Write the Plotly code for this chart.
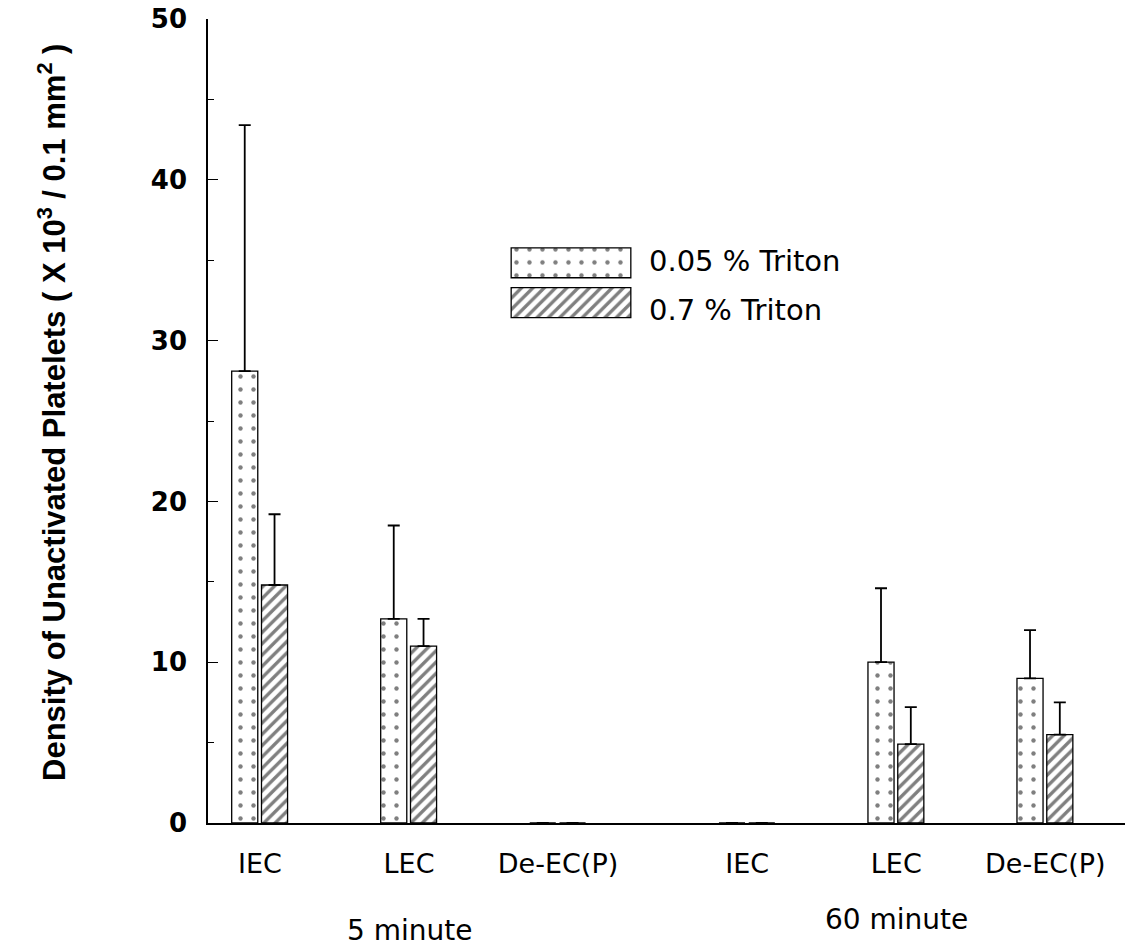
import plotly.graph_objects as go

# ---- data ----
categories = ["IEC", "LEC", "De-EC(P)", "IEC", "LEC", "De-EC(P)"]
cat_pos = [1, 2, 3, 4.27, 5.27, 6.27]
triton_005 = [28.1, 12.7, 0, 0, 10.0, 9.0]
triton_005_err = [15.3, 5.8, None, None, 4.6, 3.0]
triton_07 = [14.8, 11.0, 0, 0, 4.9, 5.5]
triton_07_err = [4.4, 1.7, None, None, 2.3, 2.0]
series_names = ["0.05 % Triton", "0.7 % Triton"]
group_labels = ["5 minute", "60 minute"]
group_pos = [2, 5.27]
y_ticks = [0, 10, 20, 30, 40, 50]

FONT = "DejaVu Sans"
dot_pattern = dict(shape=".", fgcolor="black", bgcolor="white", size=13, solidity=0.09, fillmode="overlay")
hatch_pattern = dict(shape="/", fgcolor="black", bgcolor="white", size=8, solidity=0.42, fillmode="overlay")

fig = go.Figure()

fig.add_trace(go.Bar(
    x=cat_pos, y=triton_005, name=series_names[0],
    offset=-0.19, width=0.175,
    marker=dict(color="white", pattern=dot_pattern, line=dict(color="black", width=1.3)),
    error_y=dict(type="data", array=triton_005_err, symmetric=False,
                 arrayminus=[0] * len(triton_005), color="black", thickness=1.8, width=6),
    showlegend=False,
))
fig.add_trace(go.Bar(
    x=cat_pos, y=triton_07, name=series_names[1],
    offset=0.01, width=0.175,
    marker=dict(color="white", pattern=hatch_pattern, line=dict(color="black", width=1.3)),
    error_y=dict(type="data", array=triton_07_err, symmetric=False,
                 arrayminus=[0] * len(triton_07), color="black", thickness=1.8, width=6),
    showlegend=False,
))

# legend swatches drawn on an inset axis
fig.add_trace(go.Bar(
    x=[1], y=[1], orientation="h", width=0.75, xaxis="x2", yaxis="y2",
    marker=dict(color="white", pattern=dot_pattern, line=dict(color="black", width=1.3)),
    showlegend=False, hoverinfo="skip",
))
fig.add_trace(go.Bar(
    x=[1], y=[0], orientation="h", width=0.75, xaxis="x2", yaxis="y2",
    marker=dict(color="white", pattern=hatch_pattern, line=dict(color="black", width=1.3)),
    showlegend=False, hoverinfo="skip",
))

annotations = []
# legend texts
annotations.append(dict(text=series_names[0], xref="paper", yref="paper", x=0.479, y=(823 - 258) / 808,
                        xanchor="left", yanchor="middle", showarrow=False,
                        font=dict(family=FONT, size=29, color="black")))
annotations.append(dict(text=series_names[1], xref="paper", yref="paper", x=0.479, y=(823 - 307) / 808,
                        xanchor="left", yanchor="middle", showarrow=False,
                        font=dict(family=FONT, size=29, color="black")))
# group labels
for lbl, gp, ys in zip(group_labels, group_pos, [-107, -96]):
    annotations.append(dict(text=lbl, x=gp, xref="x", yref="paper", y=0, yshift=ys,
                            xanchor="center", yanchor="middle", showarrow=False,
                            font=dict(family=FONT, size=28, color="black")))
# y-axis title
annotations.append(dict(
    text="Density of Unactivated Platelets ( X 10<sup>3</sup> / 0.1 mm<sup>2</sup> )",
    xref="paper", yref="paper", x=0, xshift=-156, y=0.51, textangle=-90,
    xanchor="center", yanchor="middle", showarrow=False,
    font=dict(family="Liberation Sans", size=31, color="black", weight="bold")))

fig.update_layout(
    width=1129, height=947,
    margin=dict(l=208, r=4, t=15, b=124),
    paper_bgcolor="white", plot_bgcolor="white",
    showlegend=False,
    xaxis=dict(
        range=[0.651, 6.805], showgrid=False, zeroline=False,
        showline=True, linecolor="black", linewidth=1.5,
        tickmode="array", tickvals=cat_pos, ticktext=categories, ticks="",
        tickfont=dict(family=FONT, size=27, color="black"),
        ticklabelstandoff=16,
    ),
    yaxis=dict(
        range=[0, 50], showgrid=False, zeroline=False,
        showline=True, linecolor="black", linewidth=1.5,
        tickmode="array", tickvals=y_ticks,
        ticks="inside", ticklen=10, tickwidth=1.2, tickcolor="black",
        minor=dict(dtick=5, ticks="inside", ticklen=6, tickwidth=1, tickcolor="black", showgrid=False),
        tickfont=dict(family=FONT, size=26, color="black", weight="bold"),
        ticklabelstandoff=14,
    ),
    xaxis2=dict(domain=[0.3293, 0.4624], range=[-0.01, 1.01], anchor="y2", visible=False, showgrid=False),
    yaxis2=dict(domain=[0.6225, 0.7215], range=[-0.5, 1.5], anchor="x2", visible=False, showgrid=False),
    annotations=annotations,
)

fig.write_html("out.html")
